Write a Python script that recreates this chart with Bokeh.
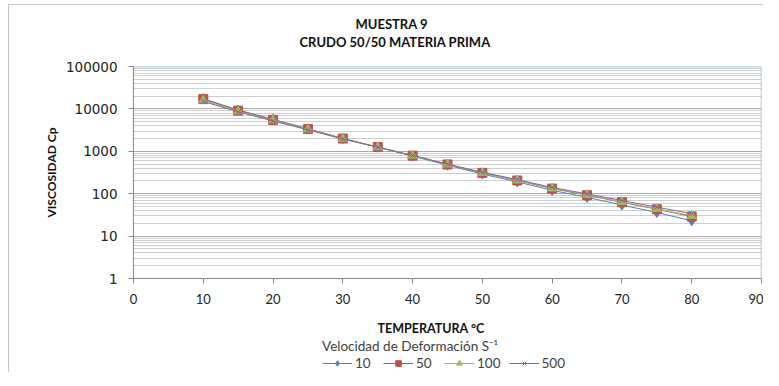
from bokeh.plotting import figure
from bokeh.layouts import column
from bokeh.models import (FixedTicker, NumeralTickFormatter, Legend,
                          LegendItem, Span, Title)
from bokeh.embed import file_html
from bokeh.resources import INLINE

# ---------------- data ----------------
temperature = [10, 15, 20, 25, 30, 35, 40, 45, 50, 55, 60, 65, 70, 75, 80]
visc_10 = [17500, 9400, 5700, 3400, 2000, 1250, 770, 470, 290, 190, 120, 82, 54, 36, 23]
visc_50 = [17000, 9100, 5500, 3350, 2000, 1260, 790, 490, 310, 205, 132, 92, 63, 43, 29]
visc_100 = [16000, 8800, 5400, 3300, 1970, 1250, 790, 490, 310, 207, 134, 94, 64, 44, 30]
visc_500 = [15000, 8500, 5200, 3200, 1950, 1250, 800, 500, 320, 215, 140, 99, 69, 48, 34]
series_labels = ["10", "50", "100", "500"]
x_ticks = [0, 10, 20, 30, 40, 50, 60, 70, 80, 90]
y_ticks = [1, 10, 100, 1000, 10000, 100000]

title_1 = "MUESTRA 9"
title_2 = "CRUDO 50/50 MATERIA PRIMA"
x_title = "TEMPERATURA °C"
y_title = "VISCOSIDAD Cp"
legend_title = "Velocidad de Deformación S⁻¹"

FONT = "Lato"
colors = ["#4F81BD", "#C0504D", "#9BBB59", "#8064A2"]
markers = ["diamond", "square", "triangle", "x"]
sizes = [10, 9, 9, 7]
series = [visc_10, visc_50, visc_100, visc_500]
BORDER = "linear-gradient(#c4c4c4,#c4c4c4) 8px {top}px / 1px 400px no-repeat, "

# ---------------- main figure ----------------
p = figure(frame_width=628, frame_height=212, x_range=(0, 90), y_range=(1, 100000),
           y_axis_type="log", output_backend="svg", toolbar_location=None,
           min_border_left=133, min_border_right=2, min_border_top=66,
           min_border_bottom=56)
p.outline_line_color = None
p.background_fill_color = "white"
p.border_fill_color = None
p.styles = {"background": BORDER.format(top=4) +
            "linear-gradient(#c4c4c4,#c4c4c4) 8px 4px / 800px 1px no-repeat, white"}

minor = [m * t for t in y_ticks[:-1] for m in range(2, 10)]
yticker = FixedTicker(ticks=y_ticks, minor_ticks=minor)
p.yaxis.ticker = yticker
p.ygrid.ticker = yticker
p.yaxis.formatter = NumeralTickFormatter(format="0")
p.xaxis.ticker = FixedTicker(ticks=x_ticks)

p.xgrid.visible = False
p.ygrid.grid_line_color = "#a8a8a8"
p.ygrid.minor_grid_line_color = "#cfcfcf"

for ax in (p.xaxis, p.yaxis):
    ax.axis_line_color = "#868686"
    ax.major_tick_line_color = "#868686"
    ax.minor_tick_line_color = None
    ax.major_tick_in = 0
    ax.major_tick_out = 5
    ax.major_label_text_color = "#222222"

p.xaxis.major_label_text_font = FONT
p.xaxis.major_label_text_font_size = "13px"
p.xaxis.major_label_standoff = 10
# blank axis label used only as vertical spacing below the tick labels
p.xaxis.axis_label = " "
p.xaxis.axis_label_text_font_size = "4px"
p.xaxis.axis_label_standoff = 5

p.yaxis.major_label_text_font = "DejaVu Sans"
p.yaxis.major_label_text_font_size = "13.5px"
p.yaxis.major_label_standoff = 11
p.yaxis.axis_label = y_title
p.yaxis.axis_label_text_font = FONT
p.yaxis.axis_label_text_font_style = "bold"
p.yaxis.axis_label_text_font_size = "12px"
p.yaxis.axis_label_standoff = 4
p.yaxis.axis_label_text_color = "#111111"

# plot-area border (top & right)
p.add_layout(Span(location=90, dimension="height", line_color="#95B3D7", line_width=1.5))
p.add_layout(Span(location=100000, dimension="width", line_color="#95B3D7", line_width=1.5))

for vals, col, mk, sz in zip(series, colors, markers, sizes):
    p.line(temperature, vals, line_color=col, line_width=1)
    p.scatter(temperature, vals, marker=mk, size=sz, fill_color=col,
              line_color=col, line_width=1)

# titles (above)
p.add_layout(Title(text=" ", text_font_size="12px", standoff=0), "above")  # spacer
p.add_layout(Title(text=title_2, align="left", offset=166, standoff=0,
                   vertical_align="middle", text_font=FONT,
                   text_font_size="13px", text_font_style="bold",
                   text_color="#111111"), "above")
p.add_layout(Title(text=title_1, align="left", offset=222, standoff=0,
                   vertical_align="middle", text_font=FONT,
                   text_font_size="13px", text_font_style="bold",
                   text_color="#111111"), "above")

# spacer in the left panel (pushes the y-axis title slightly right)
p.add_layout(Title(text=" ", text_font_size="7px", standoff=0), "left")

# x title (below)
p.add_layout(Title(text=x_title, align="left", offset=244, standoff=0,
                   vertical_align="middle", text_font=FONT,
                   text_font_size="12.5px", text_font_style="bold",
                   text_color="#111111"), "below")

# ---------------- legend strip ----------------
lf = figure(width=763, height=36, output_backend="svg", toolbar_location=None,
            x_range=(0, 1), y_range=(0, 1),
            x_axis_location=None, y_axis_location=None,
            min_border=0, min_border_left=0, min_border_right=0,
            min_border_top=0, min_border_bottom=0)
lf.outline_line_color = None
lf.background_fill_color = None
lf.border_fill_color = None
lf.grid.visible = False
lf.styles = {"background": BORDER.format(top=0) + "white"}

items = []
for vals, col, mk, sz, lab in zip(series, colors, markers, sizes, series_labels):
    # same series, outside this strip's ranges: only the legend samples show
    l = lf.line(temperature, vals, line_color=col, line_width=1)
    s = lf.scatter(temperature, vals, marker=mk, size=sz, fill_color=col,
                   line_color=col, line_width=1)
    items.append(LegendItem(label=lab, renderers=[l, s]))

legend = Legend(items=items, orientation="horizontal", location=(189, 1),
                title=legend_title, title_text_font=FONT,
                title_text_font_size="13.5px", title_text_font_style="normal",
                title_text_color="#404040", title_standoff=1,
                border_line_color=None, background_fill_alpha=0, padding=0,
                margin=0, spacing=8, glyph_width=30, glyph_height=14,
                label_height=14, label_standoff=3,
                label_text_font=FONT, label_text_font_size="13.5px",
                label_text_color="#404040")
lf.add_layout(legend)

layout = column(p, lf, spacing=0)
open("out.html", "w").write(file_html(layout, INLINE))
